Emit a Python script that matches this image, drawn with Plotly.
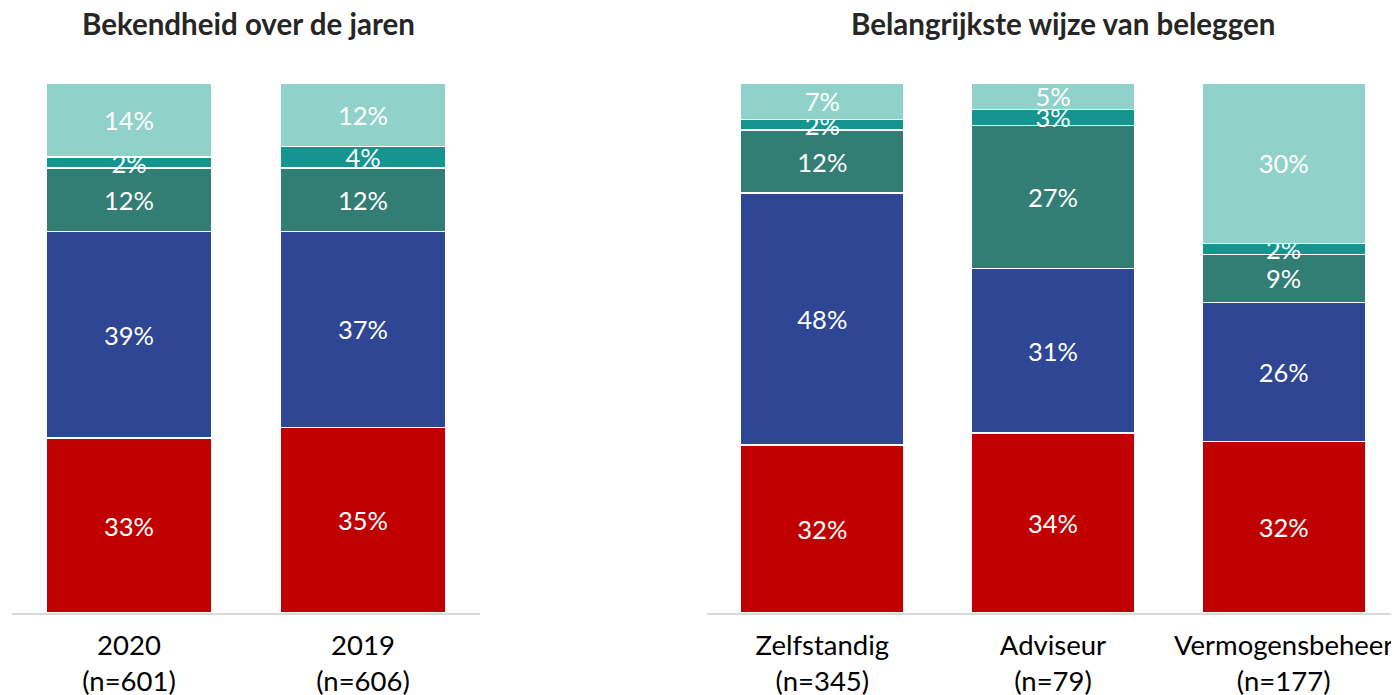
import plotly.graph_objects as go

# ---- data ----
left_title = "Bekendheid over de jaren"
right_title = "Belangrijkste wijze van beleggen"
left_categories = ["2020<br>(n=601)", "2019<br>(n=606)"]
right_categories = ["Zelfstandig<br>(n=345)", "Adviseur<br>(n=79)", "Vermogensbeheer<br>(n=177)"]

# stacked from bottom to top
left_s1 = [33, 35]
left_s2 = [39, 37]
left_s3 = [12, 12]
left_s4 = [2, 4]
left_s5 = [14, 12]

right_s1 = [32, 34, 32]
right_s2 = [48, 31, 26]
right_s3 = [12, 27, 9]
right_s4 = [2, 3, 2]
right_s5 = [7, 5, 30]

colors = ["#C00000", "#2E4694", "#327E74", "#159490", "#90D2CA"]

FONT = "Lato"
OFF = 8  # page body margin in the browser

fig = go.Figure()

left_series = [left_s1, left_s2, left_s3, left_s4, left_s5]
right_series = [right_s1, right_s2, right_s3, right_s4, right_s5]

for i, vals in enumerate(left_series):
    fig.add_trace(go.Bar(
        x=left_categories, y=vals, text=vals, texttemplate="%{text}%",
        textposition="inside", insidetextanchor="middle", textangle=0,
        constraintext="none", cliponaxis=False,
        textfont=dict(color="white", size=25.5, family=FONT),
        marker=dict(color=colors[i], line=dict(color="white", width=1.5)),
        xaxis="x", yaxis="y", showlegend=False, hoverinfo="skip"))

for i, vals in enumerate(right_series):
    fig.add_trace(go.Bar(
        x=right_categories, y=vals, text=vals, texttemplate="%{text}%",
        textposition="inside", insidetextanchor="middle", textangle=0,
        constraintext="none", cliponaxis=False,
        textfont=dict(color="white", size=25.5, family=FONT),
        marker=dict(color=colors[i], line=dict(color="white", width=1.5)),
        xaxis="x2", yaxis="y2", showlegend=False, hoverinfo="skip"))

W, H = 1399, 695
axis_common = dict(showline=True, linecolor="#D9D9D9", linewidth=1.5,
                   ticks="", showgrid=False, zeroline=False,
                   tickfont=dict(family=FONT, size=27.5, color="#000000"),
                   ticklabelstandoff=7, fixedrange=True)

top, bottom = 83 - OFF, H - 613 + OFF
plot_h = H - top - bottom

fig.update_layout(
    width=W, height=H,
    barmode="stack", barnorm="percent", bargap=0.29,
    paper_bgcolor="white", plot_bgcolor="white",
    margin=dict(l=0, r=0, t=top, b=bottom),
    xaxis=dict(domain=[(12 - OFF) / W, (480 - OFF) / W], anchor="y", **axis_common),
    xaxis2=dict(domain=[(707 - OFF) / W, (1399 - OFF) / W], anchor="y2", **axis_common),
    yaxis=dict(range=[0, 100], visible=False, fixedrange=True),
    yaxis2=dict(range=[0, 100], visible=False, anchor="x2", fixedrange=True),
    annotations=[
        dict(text="<b>" + left_title + "</b>", xref="paper", yref="paper",
             x=(248 - OFF) / W, y=1 + (83 - 23) / plot_h, xanchor="center", yanchor="middle",
             showarrow=False, font=dict(family=FONT, size=29.5, color="#262626")),
        dict(text="<b>" + right_title + "</b>", xref="paper", yref="paper",
             x=(1063 - OFF) / W, y=1 + (83 - 23) / plot_h, xanchor="center", yanchor="middle",
             showarrow=False, font=dict(family=FONT, size=29.5, color="#262626")),
    ],
)

fig.write_html("out.html")
